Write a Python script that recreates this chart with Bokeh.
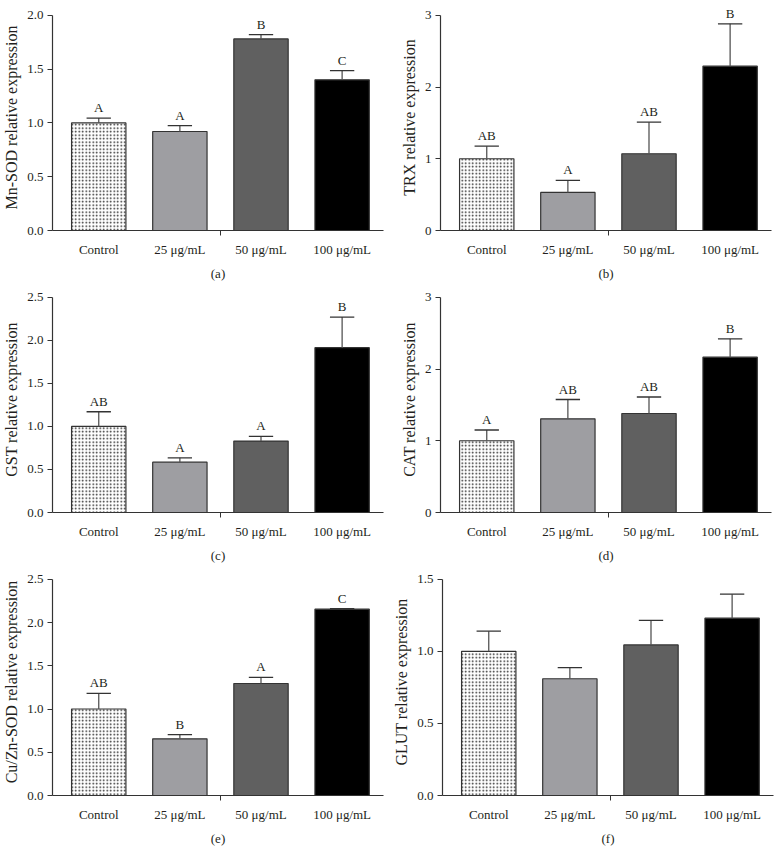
from bokeh.plotting import figure
from bokeh.models import Range1d, FixedTicker, NumeralTickFormatter, Label
from bokeh.layouts import column, row
from bokeh.embed import file_html
from bokeh.resources import INLINE

categories = ["Control", "25 μg/mL", "50 μg/mL", "100 μg/mL"]

mnsod_mean = [1.00, 0.92, 1.78, 1.40]
mnsod_upper = [1.045, 0.975, 1.82, 1.485]
mnsod_letters = ["A", "A", "B", "C"]

trx_mean = [1.00, 0.53, 1.07, 2.29]
trx_upper = [1.175, 0.70, 1.51, 2.88]
trx_letters = ["AB", "A", "AB", "B"]

gst_mean = [1.00, 0.585, 0.83, 1.915]
gst_upper = [1.17, 0.635, 0.885, 2.27]
gst_letters = ["AB", "A", "A", "B"]

cat_mean = [1.00, 1.305, 1.38, 2.165]
cat_upper = [1.15, 1.575, 1.61, 2.42]
cat_letters = ["A", "AB", "AB", "B"]

cuzn_mean = [1.00, 0.655, 1.295, 2.155]
cuzn_upper = [1.18, 0.705, 1.365, 2.16]
cuzn_letters = ["AB", "B", "A", "C"]

glut_mean = [1.00, 0.81, 1.045, 1.23]
glut_upper = [1.14, 0.887, 1.215, 1.397]
glut_letters = ["", "", "", ""]

FONT = "Liberation Serif"
TXT = "#231f20"
bar_colors = ["white", "#9e9ea2", "#606060", "#000000"]
HEADROOM = 0.05  # extra range above top tick so letters are not clipped


def panel(ylabel, mean, upper, letters, ymax, yticks, fmt, tag, top, bottom, fh):
    p = figure(output_backend="svg", toolbar_location=None,
               frame_width=331, frame_height=fh,
               min_border_left=50, min_border_right=7,
               min_border_top=top, min_border_bottom=bottom,
               x_range=Range1d(-0.57, 3.51), y_range=Range1d(0, ymax * (1 + HEADROOM)))
    xs = list(range(len(categories)))
    # control bar (dotted)
    p.vbar(x=xs[:1], top=mean[:1], width=0.67, bottom=0,
           fill_color="white", line_color="#333333", line_width=1.2,
           hatch_pattern=".", hatch_color="#222222", hatch_scale=3.5, hatch_weight=1.3)
    p.vbar(x=xs[1:], top=mean[1:], width=0.67, bottom=0,
           fill_color=bar_colors[1:], line_color="#333333", line_width=1.2)
    # error bars (upper only)
    p.segment(x0=xs, y0=mean, x1=xs, y1=upper, line_color="#555555", line_width=1.3)
    p.segment(x0=[x - 0.15 for x in xs], y0=upper, x1=[x + 0.15 for x in xs], y1=upper,
              line_color="#333333", line_width=1.3)
    for x, u, t in zip(xs, upper, letters):
        if t:
            p.add_layout(Label(x=x, y=u, text=t, y_offset=3, text_align="center",
                               text_baseline="bottom", text_font=FONT,
                               text_font_size="13px", text_color=TXT))
    p.xgrid.visible = False
    p.ygrid.visible = False
    p.outline_line_color = None
    p.background_fill_color = "white"

    xa = p.xaxis[0]
    xa.ticker = FixedTicker(ticks=xs, minor_ticks=[1.5])
    xa.major_label_overrides = {i: c for i, c in enumerate(categories)}
    xa.major_tick_out = 0
    xa.major_tick_in = 0
    xa.minor_tick_out = 5
    xa.minor_tick_in = 0
    xa.minor_tick_line_color = "#333333"
    xa.major_label_standoff = 6
    xa.axis_label = tag
    xa.axis_label_standoff = 6
    xa.axis_label_text_font_style = "normal"
    xa.axis_label_text_font = FONT
    xa.axis_label_text_font_size = "13px"
    xa.axis_label_text_color = TXT
    xa.major_label_text_font = FONT
    xa.major_label_text_font_size = "13px"
    xa.major_label_text_color = TXT
    xa.axis_line_color = "#333333"
    xa.axis_line_width = 1.2

    ya = p.yaxis[0]
    ya.ticker = FixedTicker(ticks=yticks)
    ya.bounds = (0, ymax)
    ya.formatter = NumeralTickFormatter(format=fmt)
    ya.major_tick_out = 5
    ya.major_tick_in = 0
    ya.minor_tick_out = 0
    ya.minor_tick_in = 0
    ya.major_tick_line_color = "#333333"
    ya.major_label_standoff = 4
    ya.axis_label = ylabel
    ya.axis_label_standoff = 4
    ya.axis_label_text_font_style = "normal"
    ya.axis_label_text_font = FONT
    ya.axis_label_text_font_size = "16px"
    ya.axis_label_text_color = TXT
    ya.major_label_text_font = FONT
    ya.major_label_text_font_size = "13px"
    ya.major_label_text_color = TXT
    ya.axis_line_color = "#333333"
    ya.axis_line_width = 1.2
    return p


ha = [0.0, 0.5, 1.0, 1.5, 2.0]
h25 = [0.0, 0.5, 1.0, 1.5, 2.0, 2.5]
h3 = [0, 1, 2, 3]
h15 = [0.0, 0.5, 1.0, 1.5]

pa = panel("Mn-SOD relative expression", mnsod_mean, mnsod_upper, mnsod_letters, 2.0, ha, "0.0", "(a)", 4, 56, 226)
pb = panel("TRX relative expression", trx_mean, trx_upper, trx_letters, 3, h3, "0", "(b)", 4, 56, 226)
pc = panel("GST relative expression", gst_mean, gst_upper, gst_letters, 2.5, h25, "0.0", "(c)", 0, 56, 226)
pd = panel("CAT relative expression", cat_mean, cat_upper, cat_letters, 3, h3, "0", "(d)", 0, 56, 226)
pe = panel("Cu/Zn-SOD relative expression", cuzn_mean, cuzn_upper, cuzn_letters, 2.5, h25, "0.0", "(e)", 0, 55, 227)
pf = panel("GLUT relative expression", glut_mean, glut_upper, glut_letters, 1.5, h15, "0.0", "(f)", 0, 55, 227)

layout = column(row(pa, pb), row(pc, pd), row(pe, pf))
open("out.html", "w").write(file_html(layout, INLINE))
